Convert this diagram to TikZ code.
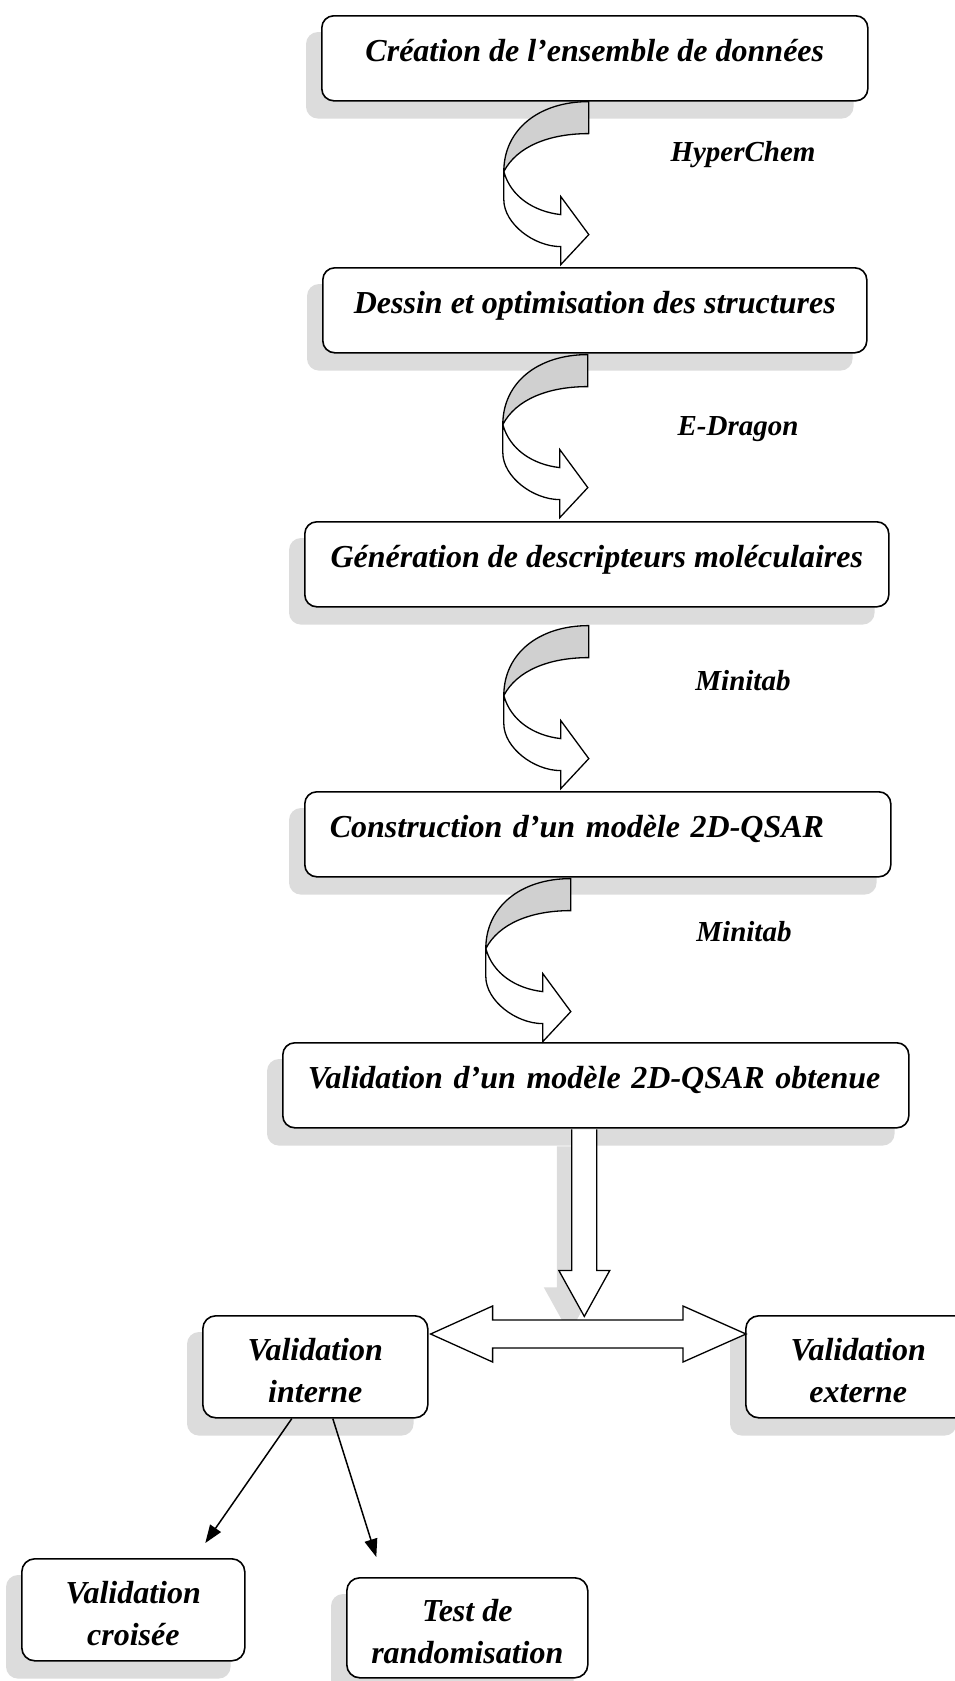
\documentclass[tikz,border=0pt]{standalone}
\usepackage{fontspec}
\setmainfont{Liberation Serif}
\usetikzlibrary{arrows.meta,calc,backgrounds}

\definecolor{shadowgray}{HTML}{DCDCDC}
\definecolor{bandgray}{HTML}{D0D0D0}

\newcommand\stagefont{\fontsize{32pt}{42pt}\selectfont\bfseries\itshape}
\newcommand\toolfont{\fontsize{29pt}{34pt}\selectfont\bfseries\itshape}
% taller first line so that two-line labels sit a little lower in their boxes
\newcommand\topstrut{\rule{0pt}{30pt}}

\tikzset{
  stage/.style={draw=black, line width=1.6pt, rounded corners=12pt, fill=white,
    font=\stagefont, inner xsep=0pt, inner ysep=0pt,
    text height=46pt, text depth=39pt, anchor=north west},
  twoline/.style={draw=black, line width=1.6pt, rounded corners=13pt, fill=white,
    font=\stagefont, align=center, inner sep=0pt, anchor=north west},
  tool/.style={font=\toolfont, anchor=base, inner sep=0pt},
  link/.style={line width=1.5pt, -{Triangle[length=18pt,width=13pt]}},
  blockarrow/.style={draw=black, line width=1.3pt, fill=white, line join=miter},
  % curved arrow: origin is the top right corner of the band
  curvarrow/.pic={
    \draw[line width=1.3pt, fill=bandgray, line join=miter]
      (0,0) .. controls (-50,0) and (-85,28) .. (-85,70)
      .. controls (-72,45) and (-40,32) .. (0,32) -- cycle;
    \draw[line width=1.3pt, fill=white, line join=miter]
      (-85,70) -- (-85,98) .. controls (-85,122) and (-55,145) .. (-28,145)
      -- (-28,163) -- (0,133) -- (-28,95) -- (-28,113)
      .. controls (-55,110) and (-78,95) .. (-85,70) -- cycle;
  }
}

\begin{document}
\begin{tikzpicture}[x=1pt,y=-1pt]
\useasboundingbox (0,0) rectangle (955,1681);
\clip (0,0) rectangle (955,1681);

% main chain of stages
\node[stage, minimum width=546pt] (b1) at (321,15) {Création de l’ensemble de données};
\node[stage, minimum width=544pt] (b2) at (322,267) {Dessin et optimisation des structures};
\node[stage, minimum width=584pt] (b3) at (304,521) {Génération de descripteurs moléculaires};
\node[stage, minimum width=586pt, inner xsep=25pt, text width=536pt, align=left] (b4) at (304,791) {\mbox{Construction d’un modèle 2D-QSAR}};
\node[stage, minimum width=626pt, inner xsep=25pt, text width=576pt, align=left] (b5) at (282,1042) {\mbox{Validation d’un modèle 2D-QSAR obtenue}};

% validation branches
\node[twoline, minimum width=225pt, minimum height=102pt] (vi) at (202,1315) {\topstrut Validation\\interne};
\node[twoline, minimum width=225pt, minimum height=102pt] (ve) at (745,1315) {\topstrut Validation\\externe};
\node[twoline, minimum width=223pt, minimum height=102pt] (vc) at (21,1558) {\topstrut Validation\\croisée};
\node[twoline, minimum width=241pt, minimum height=100pt] (vr) at (346,1577) {\topstrut Test de\\randomisation};

% software labels
\node[tool] (t1) at (743,161) {HyperChem};
\node[tool] (t2) at (738,435) {E-Dragon};
\node[tool] (t3) at (743,690) {Minitab};
\node[tool] (t4) at (744,941) {Minitab};

% curved arrows between stages
\coordinate (c1) at ($(b1.south)+(-6,0)$);
\coordinate (c2) at ($(b2.south)+(-7,1)$);
\coordinate (c3) at ($(b3.south)+(-8,18)$);
\coordinate (c4) at ($(b4.south)+(-27,1)$);
\pic at (c1) {curvarrow};
\pic at (c2) {curvarrow};
\pic at (c3) {curvarrow};
\pic at (c4) {curvarrow};

% block arrows
\coordinate (dtop) at ($(b5.south)+(-11.5,0.8)$);
\coordinate (dl) at ($(vi.north east)+(2,19)$);
\coordinate (dr) at ($(ve.north west)+(1,19)$);

\draw[blockarrow, shift={(dtop)}]
  (-12.5,0) -- (-12.5,141) -- (-25.5,141) -- (0,187) -- (25.5,141) -- (12.5,141) -- (12.5,0);
\draw[blockarrow]
  (dl) -- ++(62,-28) -- ++(0,14) -- ($(dr)+(-63,-14)$) -- ++(0,-14) -- (dr)
  -- ++(-63,28) -- ++(0,-14) -- ($(dl)+(62,14)$) -- ++(0,14) -- cycle;

% links from internal validation
\coordinate (e1) at ($(vc.north)+(72,-15)$);
\coordinate (e2) at ($(vr.north)+(-91,-20)$);
\draw[link] ($(vi.south)+(-23.5,0)$) -- (e1);
\draw[link] ($(vi.south)+(17.5,0)$) -- (e2);

% shadows
\begin{scope}[on background layer]
  \foreach \n in {b1,b2,b3,b4,b5,vi,ve,vc,vr}
    \fill[shadowgray, rounded corners=12pt]
      ([xshift=-15pt,yshift=-17pt]\n.north west) rectangle ([xshift=-15pt,yshift=-17pt]\n.south east);
  \fill[shadowgray, shift={(dtop)}, xshift=-15pt, yshift=-17pt]
    (-12.5,0) -- (-12.5,141) -- (-25.5,141) -- (0,187) -- (25.5,141) -- (12.5,141) -- (12.5,0) -- cycle;
  \begin{scope}[xshift=-15pt, yshift=-17pt]
    \fill[shadowgray]
      (dl) -- ++(62,-28) -- ++(0,14) -- ($(dr)+(-63,-14)$) -- ++(0,-14) -- (dr)
      -- ++(-63,28) -- ++(0,-14) -- ($(dl)+(62,14)$) -- ++(0,14) -- cycle;
  \end{scope}
\end{scope}
\end{tikzpicture}
\end{document}
